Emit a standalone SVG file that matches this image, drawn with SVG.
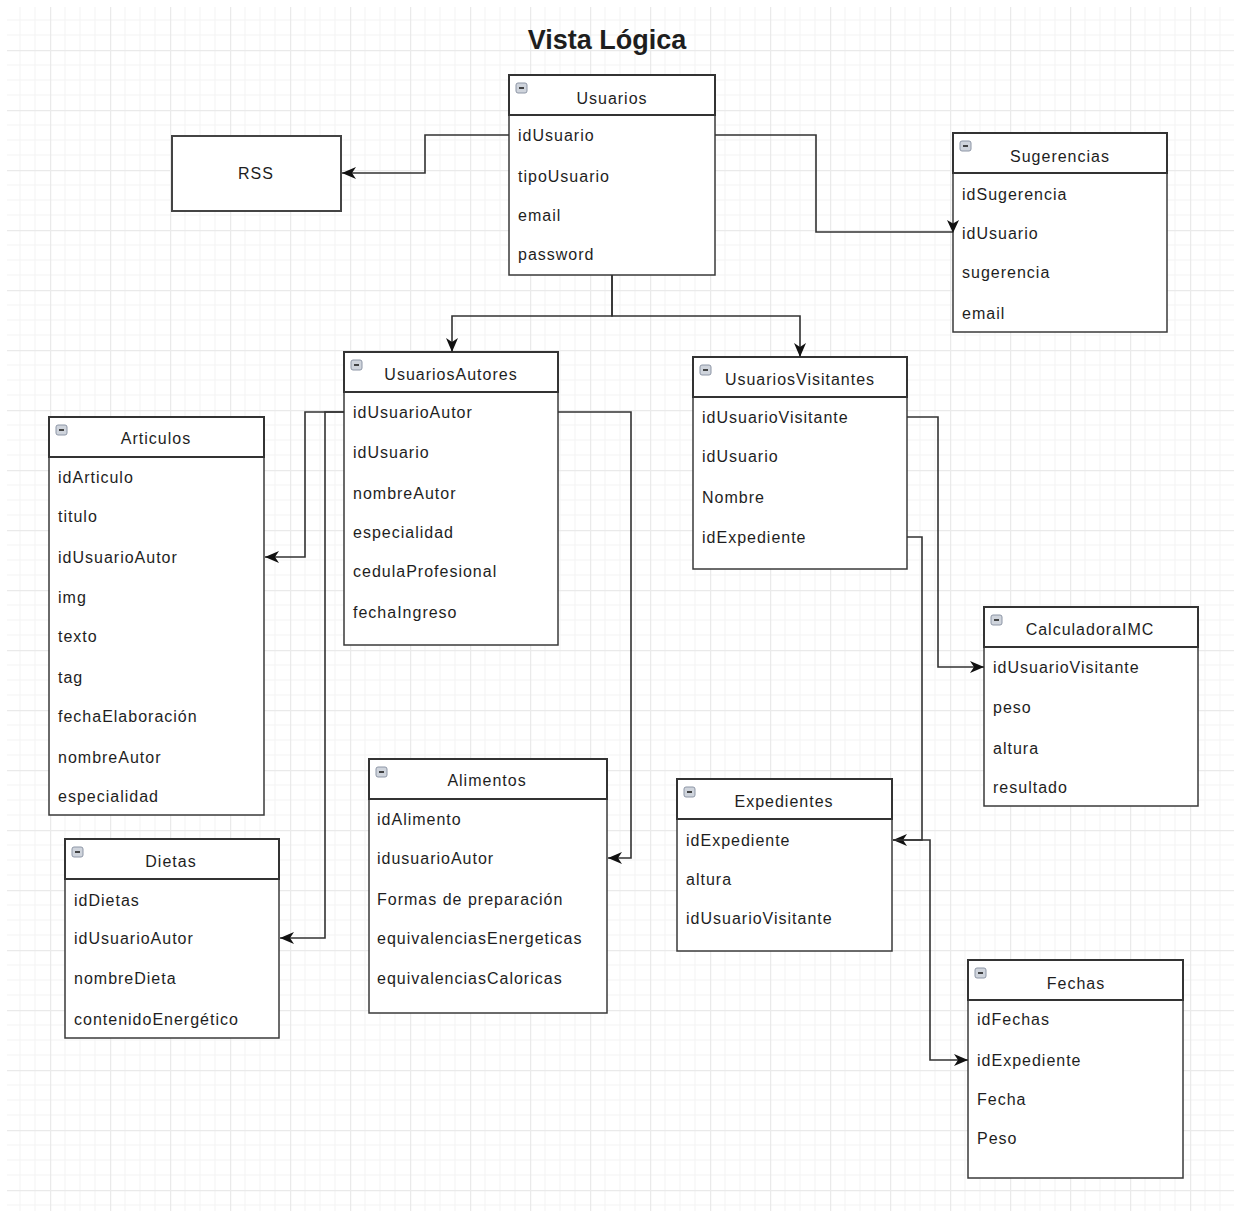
<svg xmlns="http://www.w3.org/2000/svg" width="1234" height="1211" viewBox="0 0 1234 1211">
<style>
text{font-family:"Liberation Sans",Arial,Helvetica,sans-serif;fill:#1e1e1e}
.title{font-size:27px;font-weight:bold;text-anchor:middle}
.hd{font-size:16px;letter-spacing:1px;text-anchor:middle}
.row{font-size:16px;letter-spacing:1px}
.box{fill:#fff;stroke:#3a3a3a;stroke-width:1.5}
.head{fill:#fff;stroke:#333;stroke-width:2}
.icon{fill:#cfd4dc;stroke:#8d96a6;stroke-width:1}
.minus{stroke:#333;stroke-width:1.8}
.conn{fill:none;stroke:#333;stroke-width:1.6}
.head-arrow{fill:#111}
</style>
<defs>
<pattern id="grid" patternUnits="userSpaceOnUse" x="50" y="50" width="60" height="60">
<path d="M15,0V60M30,0V60M45,0V60M0,15H60M0,30H60M0,45H60" stroke="#f3f3f3" stroke-width="1" fill="none"/>
<path d="M0.5,0V60M0,0.5H60" stroke="#eaeaea" stroke-width="1.5" fill="none"/>
</pattern>
<marker id="arr" markerUnits="userSpaceOnUse" markerWidth="15" markerHeight="13" refX="14" refY="6.5" orient="auto" viewBox="0 0 15 13">
<path d="M0,0.5 L14,6.5 L0,12.5 L4,6.5 z" fill="#111"/>
</marker>
<g id="ic"><rect class="icon" x="0" y="0" width="11" height="10" rx="2"/><path class="minus" d="M3,5H8"/></g>
</defs>
<rect width="1234" height="1211" fill="#fff"/>
<rect x="7" y="7" width="1227" height="1204" fill="url(#grid)"/>
<text class="title" x="607" y="49">Vista Lógica</text>

<g id="RSS">
<rect x="172" y="136" width="169" height="75" fill="#fff" stroke="#444" stroke-width="2"/>
<text class="hd" x="256" y="179">RSS</text>
</g>

<g id="Usuarios">
<rect class="box" x="509" y="75" width="206" height="200"/>
<rect class="head" x="509" y="75" width="206" height="40"/>
<use href="#ic" x="516" y="83"/>
<text class="hd" x="612" y="104">Usuarios</text>
<text class="row" x="518" y="141">idUsuario</text>
<text class="row" x="518" y="182">tipoUsuario</text>
<text class="row" x="518" y="221">email</text>
<text class="row" x="518" y="260">password</text>
</g>

<g id="Sugerencias">
<rect class="box" x="953" y="133" width="214" height="199"/>
<rect class="head" x="953" y="133" width="214" height="40"/>
<use href="#ic" x="960" y="141"/>
<text class="hd" x="1060" y="162">Sugerencias</text>
<text class="row" x="962" y="200">idSugerencia</text>
<text class="row" x="962" y="239">idUsuario</text>
<text class="row" x="962" y="278">sugerencia</text>
<text class="row" x="962" y="319">email</text>
</g>

<g id="UsuariosAutores">
<rect class="box" x="344" y="352" width="214" height="293"/>
<rect class="head" x="344" y="352" width="214" height="40"/>
<use href="#ic" x="351" y="360"/>
<text class="hd" x="451" y="380">UsuariosAutores</text>
<text class="row" x="353" y="418">idUsuarioAutor</text>
<text class="row" x="353" y="458">idUsuario</text>
<text class="row" x="353" y="499">nombreAutor</text>
<text class="row" x="353" y="538">especialidad</text>
<text class="row" x="353" y="577">cedulaProfesional</text>
<text class="row" x="353" y="618">fechaIngreso</text>
</g>

<g id="UsuariosVisitantes">
<rect class="box" x="693" y="357" width="214" height="212"/>
<rect class="head" x="693" y="357" width="214" height="40"/>
<use href="#ic" x="700" y="365"/>
<text class="hd" x="800" y="385">UsuariosVisitantes</text>
<text class="row" x="702" y="423">idUsuarioVisitante</text>
<text class="row" x="702" y="462">idUsuario</text>
<text class="row" x="702" y="503">Nombre</text>
<text class="row" x="702" y="543">idExpediente</text>
</g>

<g id="Articulos">
<rect class="box" x="49" y="417" width="215" height="398"/>
<rect class="head" x="49" y="417" width="215" height="40"/>
<use href="#ic" x="56" y="425"/>
<text class="hd" x="156" y="444">Articulos</text>
<text class="row" x="58" y="483">idArticulo</text>
<text class="row" x="58" y="522">titulo</text>
<text class="row" x="58" y="563">idUsuarioAutor</text>
<text class="row" x="58" y="603">img</text>
<text class="row" x="58" y="642">texto</text>
<text class="row" x="58" y="683">tag</text>
<text class="row" x="58" y="722">fechaElaboración</text>
<text class="row" x="58" y="763">nombreAutor</text>
<text class="row" x="58" y="802">especialidad</text>
</g>

<g id="CalculadoraIMC">
<rect class="box" x="984" y="607" width="214" height="199"/>
<rect class="head" x="984" y="607" width="214" height="40"/>
<use href="#ic" x="991" y="615"/>
<text class="hd" x="1090" y="635">CalculadoraIMC</text>
<text class="row" x="993" y="673">idUsuarioVisitante</text>
<text class="row" x="993" y="713">peso</text>
<text class="row" x="993" y="754">altura</text>
<text class="row" x="993" y="793">resultado</text>
</g>

<g id="Dietas">
<rect class="box" x="65" y="839" width="214" height="199"/>
<rect class="head" x="65" y="839" width="214" height="40"/>
<use href="#ic" x="72" y="847"/>
<text class="hd" x="171" y="867">Dietas</text>
<text class="row" x="74" y="906">idDietas</text>
<text class="row" x="74" y="944">idUsuarioAutor</text>
<text class="row" x="74" y="984">nombreDieta</text>
<text class="row" x="74" y="1025">contenidoEnergético</text>
</g>

<g id="Alimentos">
<rect class="box" x="369" y="759" width="238" height="254"/>
<rect class="head" x="369" y="759" width="238" height="40"/>
<use href="#ic" x="376" y="767"/>
<text class="hd" x="487" y="786">Alimentos</text>
<text class="row" x="377" y="825">idAlimento</text>
<text class="row" x="377" y="864">idusuarioAutor</text>
<text class="row" x="377" y="905">Formas de preparación</text>
<text class="row" x="377" y="944">equivalenciasEnergeticas</text>
<text class="row" x="377" y="984">equivalenciasCaloricas</text>
</g>

<g id="Expedientes">
<rect class="box" x="677" y="779" width="215" height="172"/>
<rect class="head" x="677" y="779" width="215" height="40"/>
<use href="#ic" x="684" y="787"/>
<text class="hd" x="784" y="807">Expedientes</text>
<text class="row" x="686" y="846">idExpediente</text>
<text class="row" x="686" y="885">altura</text>
<text class="row" x="686" y="924">idUsuarioVisitante</text>
</g>

<g id="Fechas">
<rect class="box" x="968" y="960" width="215" height="218"/>
<rect class="head" x="968" y="960" width="215" height="40"/>
<use href="#ic" x="975" y="968"/>
<text class="hd" x="1076" y="989">Fechas</text>
<text class="row" x="977" y="1025">idFechas</text>
<text class="row" x="977" y="1066">idExpediente</text>
<text class="row" x="977" y="1105">Fecha</text>
<text class="row" x="977" y="1144">Peso</text>
</g>

<g id="connectors">
<path class="conn" d="M509,135 H425 V173 H342" marker-end="url(#arr)"/>
<path class="conn" d="M715,135 H816 V232 H953"/>
<path class="head-arrow" d="M947,220 L953,223.5 L959,220 L953,233 z"/>
<path class="conn" d="M612,275 V316 H452 V352" marker-end="url(#arr)"/>
<path class="conn" d="M612,275 V316 H800 V357" marker-end="url(#arr)"/>
<path class="conn" d="M344,412 H305 V557 H265" marker-end="url(#arr)"/>
<path class="conn" d="M344,412 H325 V938 H280" marker-end="url(#arr)"/>
<path class="conn" d="M558,412 H631 V858 H608" marker-end="url(#arr)"/>
<path class="conn" d="M907,417 H938 V667 H984" marker-end="url(#arr)"/>
<path class="conn" d="M907,537 H922 V840 H893" marker-end="url(#arr)"/>
<path class="conn" d="M893,840 H930 V1060 H968" marker-end="url(#arr)"/>
</g>
</svg>
